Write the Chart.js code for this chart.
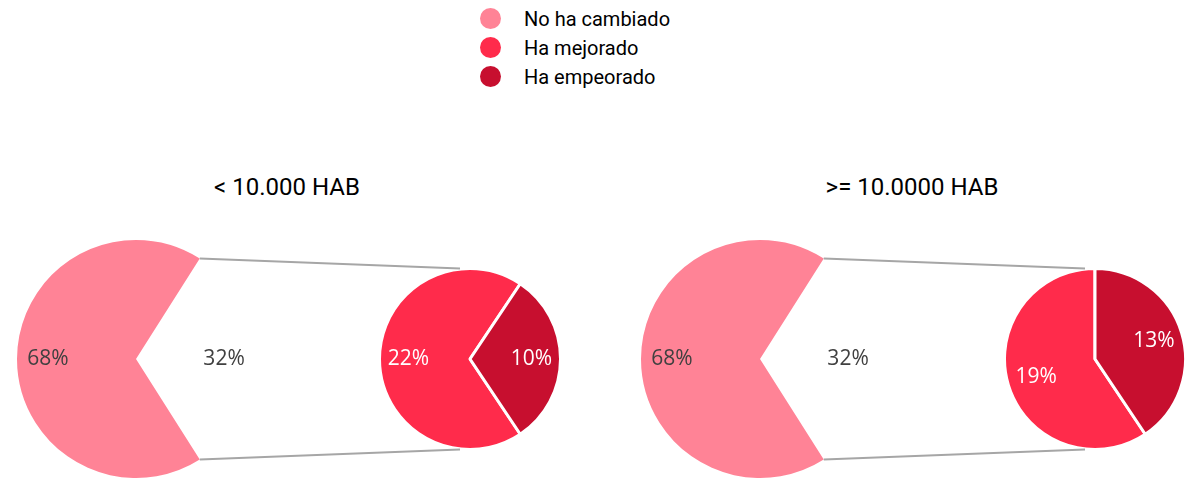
<!DOCTYPE html>
<html>
<head>
<meta charset="utf-8">
<script src="https://cdn.jsdelivr.net/npm/chart.js@4/dist/chart.umd.min.js"></script>
<style>
  html, body { margin: 0; padding: 0; background: #ffffff; }
  #stage { position: relative; width: 1204px; height: 478px; overflow: hidden; font-family: Roboto, sans-serif; }
  .box { position: absolute; }
  .title { position: absolute; font-size: 24px; color: #000; white-space: nowrap; transform: translate(-50%, -50%); }
  #legend { position: absolute; left: 480px; top: 4px; }
  .lrow { display: flex; align-items: center; height: 29px; font-size: 20px; color: #000; }
  .dot { width: 21px; height: 21px; border-radius: 50%; margin-right: 23px; }
  #overlay { position: absolute; left: 0; top: 0; pointer-events: none; }
</style>
</head>
<body>
<div id="stage">
  <div id="legend"></div>
  <div class="title" style="left:287px; top:187px;" id="t0"></div>
  <div class="title" style="left:912px; top:187px;" id="t1"></div>
  <div class="box" style="left:17px; top:240px; width:238px; height:238px;"><canvas id="big0"></canvas></div>
  <div class="box" style="left:378px; top:267px; width:184px; height:184px;"><canvas id="small0"></canvas></div>
  <div class="box" style="left:641px; top:240px; width:238px; height:238px;"><canvas id="big1"></canvas></div>
  <div class="box" style="left:1003px; top:267px; width:184px; height:184px;"><canvas id="small1"></canvas></div>
  <canvas id="overlay" width="1204" height="478"></canvas>
</div>
<script>
// ---- data ----
const categories = ['No ha cambiado', 'Ha mejorado', 'Ha empeorado'];
const groupTitles = ['< 10.000 HAB', '>= 10.0000 HAB'];
const noCambiado = [68, 68];       // main pie slice
const otrosTotal = [32, 32];       // exploded portion
const mejorado = [22, 19];
const empeorado = [10, 13];
const colors = ['#FF8396', '#FF2B4B', '#C70F2F'];

// legend & titles
const legend = document.getElementById('legend');
categories.forEach((c, i) => {
  const row = document.createElement('div');
  row.className = 'lrow';
  row.innerHTML = '<span class="dot" style="background:' + colors[i] + '"></span><span>' + c + '</span>';
  legend.appendChild(row);
});
document.getElementById('t0').textContent = groupTitles[0];
document.getElementById('t1').textContent = groupTitles[1];

const labelFont = '21px "Open Sans", sans-serif';

const labelPlugin = {
  id: 'pctLabels',
  afterDatasetsDraw(chart, args, opts) {
    const ctx = chart.ctx;
    const meta = chart.getDatasetMeta(0);
    const ds = chart.data.datasets[0];
    ctx.save();
    ctx.font = labelFont;
    ctx.textAlign = 'center';
    ctx.textBaseline = 'middle';
    meta.data.forEach((arc, i) => {
      const p = arc.getProps(['x', 'y', 'startAngle', 'endAngle', 'outerRadius'], true);
      const mid = (p.startAngle + p.endAngle) / 2;
      const r = p.outerRadius * opts.factor;
      ctx.fillStyle = opts.colors[i];
      ctx.fillText(ds.data[i] + '%', p.x + Math.cos(mid) * r, p.y + Math.sin(mid) * r);
    });
    ctx.restore();
  }
};

function bigChart(id, g) {
  return new Chart(document.getElementById(id), {
    type: 'pie',
    data: {
      labels: [categories[0], 'Otros'],
      datasets: [{
        data: [noCambiado[g], otrosTotal[g]],
        backgroundColor: [colors[0], 'rgba(0,0,0,0)'],
        borderWidth: 0
      }]
    },
    options: {
      responsive: true, maintainAspectRatio: true, animation: false,
      rotation: 147.6,
      layout: { padding: 0 },
      plugins: { legend: { display: false }, tooltip: { enabled: false },
        pctLabels: { factor: 0.74, colors: ['#404040', '#404040'] } }
    },
    plugins: [labelPlugin]
  });
}
function smallChart(id, g) {
  return new Chart(document.getElementById(id), {
    type: 'pie',
    data: {
      labels: [categories[1], categories[2]],
      datasets: [{
        data: [mejorado[g], empeorado[g]],
        backgroundColor: [colors[1], colors[2]],
        borderColor: '#ffffff',
        borderWidth: 3
      }]
    },
    options: {
      responsive: true, maintainAspectRatio: true, animation: false,
      rotation: 146.25,
      layout: { padding: 0 },
      plugins: { legend: { display: false }, tooltip: { enabled: false },
        pctLabels: { factor: 0.68, colors: ['#ffffff', '#ffffff'] } }
    },
    plugins: [labelPlugin]
  });
}

const b0 = bigChart('big0', 0), s0 = smallChart('small0', 0);
const b1 = bigChart('big1', 1), s1 = smallChart('small1', 1);

function drawConnectors() {
  const ov = document.getElementById('overlay');
  const ctx = ov.getContext('2d');
  ctx.clearRect(0, 0, ov.width, ov.height);
  ctx.strokeStyle = '#A6A6A6';
  ctx.lineWidth = 2;
  [[b0, s0], [b1, s1]].forEach(([b, s]) => {
    const bArc = b.getDatasetMeta(0).data[0];
    const bRect = b.canvas.getBoundingClientRect();
    const sArc = s.getDatasetMeta(0).data[0];
    const sRect = s.canvas.getBoundingClientRect();
    const bx = bRect.left + bArc.x, by = bRect.top + bArc.y, br = bArc.outerRadius;
    const sx = sRect.left + sArc.x, sy = sRect.top + sArc.y, sr = sArc.outerRadius;
    const sa = bArc.startAngle, ea = bArc.endAngle;
    const p1 = [bx + Math.cos(sa) * br, by + Math.sin(sa) * br];
    const p2 = [bx + Math.cos(ea) * br, by + Math.sin(ea) * br];
    const top = p1[1] < p2[1] ? p1 : p2;
    const bot = p1[1] < p2[1] ? p2 : p1;
    ctx.beginPath();
    ctx.moveTo(top[0], top[1]); ctx.lineTo(sx - 10, sy - sr);
    ctx.moveTo(bot[0], bot[1]); ctx.lineTo(sx - 10, sy + sr);
    ctx.stroke();
  });
}
drawConnectors();
</script>
</body>
</html>
